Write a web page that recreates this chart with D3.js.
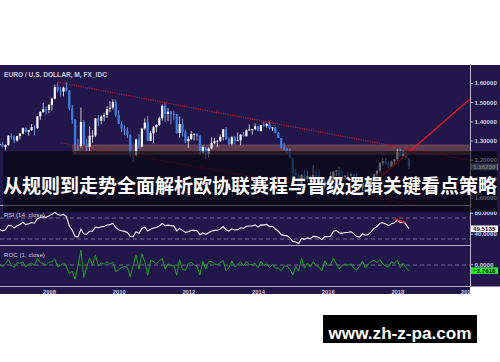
<!DOCTYPE html>
<html><head><meta charset="utf-8">
<script src="https://cdn.jsdelivr.net/npm/d3@7"></script>
<style>
html,body{margin:0;padding:0;background:#fff;}
svg{display:block;}
</style></head><body>
<svg id="chart" width="500" height="362"></svg>
<script>
// EUR/USD monthly bars, first bar = Jan 2005 (earlier bars only feed the indicators)
const firstBar = [2005, 0];
const firstOpen = 1.3560;
const closes = [
  1.3040, 1.3250, 1.2960, 1.2870, 1.2300, 1.2100, 1.2120, 1.2330, 1.2030, 1.1990, 1.1790, 1.1840,
  1.2160, 1.1920, 1.2120, 1.2620, 1.2850, 1.2790, 1.2760, 1.2815, 1.2670, 1.2760, 1.3240, 1.3200,
  1.3000, 1.3230, 1.3360, 1.3650, 1.3450, 1.3540, 1.3690, 1.3640, 1.4260, 1.4490, 1.4630, 1.4590,
  1.4860, 1.5180, 1.5790, 1.5600, 1.5550, 1.5760, 1.5600, 1.4670, 1.4080, 1.2730, 1.2700, 1.3970,
  1.2800, 1.2670, 1.3250, 1.3250, 1.4150, 1.4030, 1.4250, 1.4330, 1.4640, 1.4720, 1.5000, 1.4320,
  1.3860, 1.3630, 1.3510, 1.3290, 1.2270, 1.2230, 1.3050, 1.2680, 1.3630, 1.3930, 1.2980, 1.3380,
  1.3690, 1.3810, 1.4160, 1.4810, 1.4390, 1.4500, 1.4390, 1.4370, 1.3390, 1.3860, 1.3440, 1.2960,
  1.3080, 1.3330, 1.3340, 1.3240, 1.2360, 1.2660, 1.2300, 1.2580, 1.2860, 1.2960, 1.2990, 1.3190,
  1.3580, 1.3060, 1.2820, 1.3170, 1.2990, 1.3010, 1.3300, 1.3220, 1.3530, 1.3580, 1.3590, 1.3740,
  1.3490, 1.3800, 1.3770, 1.3870, 1.3630, 1.3690, 1.3390, 1.3130, 1.2630, 1.2530, 1.2450, 1.2100,
  1.1290, 1.1190, 1.0730, 1.1220, 1.0990, 1.1140, 1.0980, 1.1210, 1.1170, 1.1000, 1.0570, 1.0860,
  1.0830, 1.0870, 1.1380, 1.1450, 1.1130, 1.1100, 1.1170, 1.1160, 1.1240, 1.0980, 1.0590, 1.0520,
  1.0800, 1.0580, 1.0650, 1.0900, 1.1240, 1.1420, 1.1840, 1.1910, 1.1810, 1.1650, 1.1900, 1.2020,
  1.2410, 1.2190, 1.2320, 1.207732, 1.16230
];
const highs = [
  1.3670, 1.3290, 1.3480, 1.3080, 1.2940, 1.2380, 1.2260, 1.2470, 1.2510, 1.2160, 1.2090, 1.2100,
  1.2310, 1.2230, 1.2180, 1.2640, 1.2980, 1.2950, 1.2860, 1.2910, 1.2920, 1.2800, 1.3290, 1.3370,
  1.3270, 1.3250, 1.3380, 1.3680, 1.3680, 1.3550, 1.3850, 1.3770, 1.4280, 1.4530, 1.4970, 1.4770,
  1.4900, 1.5240, 1.5910, 1.6020, 1.5800, 1.5820, 1.6040, 1.5630, 1.4870, 1.4120, 1.3080, 1.4720,
  1.4060, 1.3090, 1.3740, 1.3540, 1.4170, 1.4340, 1.4310, 1.4450, 1.4790, 1.5060, 1.5140, 1.5140,
  1.4580, 1.3990, 1.3780, 1.3690, 1.3330, 1.2480, 1.3110, 1.3330, 1.3640, 1.4160, 1.4280, 1.3500,
  1.3760, 1.3860, 1.4250, 1.4880, 1.4940, 1.4700, 1.4540, 1.4550, 1.4390, 1.4250, 1.4150, 1.3550,
  1.3230, 1.3490, 1.3390, 1.3380, 1.3280, 1.2750, 1.2660, 1.2640, 1.3170, 1.3140, 1.3020, 1.3310,
  1.3600, 1.3710, 1.3170, 1.3240, 1.3240, 1.3420, 1.3340, 1.3450, 1.3580, 1.3830, 1.3620, 1.3890,
  1.3740, 1.3820, 1.3970, 1.3910, 1.3990, 1.3700, 1.3700, 1.3440, 1.3140, 1.2890, 1.2600, 1.2570,
  1.2100, 1.1530, 1.1240, 1.1230, 1.1470, 1.1440, 1.1220, 1.1710, 1.1460, 1.1500, 1.1060, 1.1000,
  1.0990, 1.1380, 1.1390, 1.1460, 1.1620, 1.1430, 1.1190, 1.1370, 1.1330, 1.1260, 1.1300, 1.0750,
  1.0830, 1.0830, 1.0910, 1.0950, 1.1270, 1.1450, 1.1850, 1.2070, 1.2090, 1.1880, 1.1960, 1.2030,
  1.2540, 1.2560, 1.2480, 1.2410, 1.2100
];
const lows = [
  1.2970, 1.2750, 1.2860, 1.2750, 1.2290, 1.1990, 1.1870, 1.2080, 1.1980, 1.1870, 1.1640, 1.1710,
  1.1800, 1.1860, 1.1860, 1.2070, 1.2610, 1.2460, 1.2460, 1.2710, 1.2650, 1.2480, 1.2720, 1.3070,
  1.2860, 1.2930, 1.3060, 1.3320, 1.3410, 1.3260, 1.3500, 1.3260, 1.3590, 1.4070, 1.4440, 1.4350,
  1.4420, 1.4560, 1.5140, 1.5510, 1.5290, 1.5300, 1.5560, 1.4580, 1.3880, 1.2330, 1.2420, 1.2600,
  1.2760, 1.2460, 1.2460, 1.2890, 1.3170, 1.3750, 1.3850, 1.4000, 1.4170, 1.4480, 1.4620, 1.4220,
  1.3860, 1.3440, 1.3270, 1.3120, 1.2140, 1.1880, 1.2150, 1.2590, 1.2640, 1.3540, 1.2970, 1.2970,
  1.2870, 1.3430, 1.3750, 1.4040, 1.3970, 1.4020, 1.3840, 1.4060, 1.3360, 1.3140, 1.3210, 1.2860,
  1.2620, 1.3030, 1.3000, 1.3000, 1.2290, 1.2290, 1.2040, 1.2130, 1.2560, 1.2800, 1.2660, 1.2920,
  1.3000, 1.3030, 1.2740, 1.2750, 1.2790, 1.2990, 1.2750, 1.3200, 1.3210, 1.3500, 1.3300, 1.3540,
  1.3480, 1.3470, 1.3720, 1.3670, 1.3590, 1.3500, 1.3370, 1.3130, 1.2570, 1.2500, 1.2360, 1.2100,
  1.1100, 1.1100, 1.0460, 1.0520, 1.0820, 1.0820, 1.0810, 1.0850, 1.1090, 1.0900, 1.0560, 1.0520,
  1.0710, 1.0800, 1.0810, 1.1140, 1.1100, 1.0910, 1.0950, 1.1050, 1.1120, 1.0850, 1.0510, 1.0340,
  1.0340, 1.0490, 1.0490, 1.0570, 1.0840, 1.1120, 1.1310, 1.1660, 1.1720, 1.1570, 1.1550, 1.1720,
  1.1920, 1.2160, 1.2150, 1.2060, 1.1510
];

const yearTicks = [2008, 2010, 2012, 2014, 2016, 2018, 2020];
const priceTicks = [1.0, 1.1, 1.2, 1.3, 1.4, 1.5, 1.6];
const rsiTicks = [80, 40];
const rsiBands = [70, 30];
const rocTicks = [0];

// Drawing tools: [year, month (0-based), value]
const upperTrend = [[2008, 3, 1.6040], [2020, 1, 1.1960]];
const lowerTrend = [[2008, 4, 1.2870], [2020, 1, 0.9150]];
const breakoutLine = [[2017, 5, 1.0940], [2020, 1, 1.5165]];
const zoneStart = [2008, 8];
const zoneEnd = [2020, 1];
const zonePrices = [1.2244, 1.2766];
const rsiDivergence = [[2017, 11, 68.5], [2018, 3, 61.0]];

const title = "EURO / U.S. DOLLAR, M, FX_IDC";
const headline = "从规则到走势全面解析欧协联赛程与晋级逻辑关键看点策略";
const siteName = "www.zh-z-pa.com";

// ---------------------------------------------------------------
const navy = "#21174a";
const bullCol = "#f4f4f8", bearCol = "#3c80e6";
const axisText = "#cfcde0";
const W = 500;
const plotRight = 470;
const mainTop = 65, mainBottom = 205.5, rsiBottom = 245.5, rocBottom = 286.5, axisBottom = 294;

const mIdx = (y, m) => (y - 2008) * 12 + m;
const offset = mIdx(firstBar[0], firstBar[1]);

const bars = closes.map((c, i) => ({
  t: i + offset,
  o: i ? closes[i - 1] : firstOpen,
  h: highs[i], l: lows[i], c
}));

function wilderRsi(vals, len) {
  const out = vals.map(() => null);
  let ag = 0, al = 0;
  for (let i = 1; i < vals.length; i++) {
    const ch = vals[i] - vals[i - 1];
    const g = Math.max(ch, 0), l = Math.max(-ch, 0);
    if (i <= len) { ag += g / len; al += l / len; }
    else { ag = (ag * (len - 1) + g) / len; al = (al * (len - 1) + l) / len; }
    if (i >= len) out[i] = al === 0 ? 100 : 100 - 100 / (1 + ag / al);
  }
  return out;
}
const rsi = wilderRsi(closes, 14);
const roc = closes.map((c, i) => i ? (c / closes[i - 1] - 1) * 100 : null);

const x = d3.scaleLinear().domain([0, 144]).range([49, 467]);
const y = d3.scaleLinear().domain([1.0, 1.6]).range([198, 83]);
const yRsi = d3.scaleLinear().domain([30, 70]).range([239, 218]);
const yRoc = d3.scaleLinear().domain([0, 10]).range([265, 250]);

const svg = d3.select("#chart");
const defs = svg.append("defs");
function clip(id, x0, y0, w, h) {
  defs.append("clipPath").attr("id", id).append("rect")
    .attr("x", x0).attr("y", y0).attr("width", w).attr("height", h);
  return `url(#${id})`;
}
const clipMain = clip("cMain", 0, mainTop, plotRight, mainBottom - mainTop);
const clipRsi = clip("cRsi", 0, mainBottom, plotRight, rsiBottom - mainBottom);
const clipRoc = clip("cRoc", 0, rsiBottom, plotRight, rocBottom - rsiBottom);
const clipX = clip("cX", 0, rocBottom, plotRight, axisBottom - rocBottom);

// background
svg.append("rect").attr("x", 0).attr("y", 0).attr("width", W).attr("height", 362).attr("fill", "#fff");
svg.append("rect").attr("x", 0).attr("y", mainTop).attr("width", plotRight).attr("height", axisBottom - mainTop).attr("fill", navy);
svg.append("rect").attr("x", plotRight).attr("y", mainTop).attr("width", W - plotRight).attr("height", rocBottom - mainTop).attr("fill", navy);

// ---- main price pane
const main = svg.append("g").attr("clip-path", clipMain);

main.append("rect")
  .attr("x", x(mIdx(...zoneStart)))
  .attr("width", x(mIdx(...zoneEnd)) - x(mIdx(...zoneStart)))
  .attr("y", y(zonePrices[1]))
  .attr("height", y(zonePrices[0]) - y(zonePrices[1]))
  .attr("fill", "#b0705a").attr("fill-opacity", 0.42);
main.append("line")
  .attr("x1", x(mIdx(...zoneStart))).attr("x2", x(mIdx(...zoneEnd)))
  .attr("y1", y(zonePrices[1])).attr("y2", y(zonePrices[1]))
  .attr("stroke", "#c08070").attr("stroke-opacity", 0.5).attr("stroke-width", 0.8);

const candle = main.append("g").selectAll("g").data(bars).join("g");
candle.append("line")
  .attr("x1", d => x(d.t)).attr("x2", d => x(d.t))
  .attr("y1", d => y(d.h)).attr("y2", d => y(d.l))
  .attr("stroke", d => d.c >= d.o ? "#d6d6e2" : "#7aa0e4")
  .attr("stroke-width", 0.9);
candle.append("rect")
  .attr("x", d => x(d.t) - 1.1).attr("width", 2.2)
  .attr("y", d => y(Math.max(d.o, d.c)))
  .attr("height", d => Math.max(1, Math.abs(y(d.o) - y(d.c))))
  .attr("fill", d => d.c >= d.o ? bullCol : bearCol);

const seg = pts => pts.map(p => [x(mIdx(p[0], p[1])), y(p[2])]);
main.append("path").attr("d", d3.line()(seg(upperTrend)))
  .attr("stroke", "#c4122c").attr("stroke-width", 1.3).attr("stroke-dasharray", "1.2,1.1").attr("fill", "none");
main.append("path").attr("d", d3.line()(seg(lowerTrend)))
  .attr("stroke", "#c4122c").attr("stroke-width", 1.1).attr("stroke-dasharray", "1.2,1.8").attr("fill", "none");
main.append("path").attr("d", d3.line()(seg(breakoutLine)))
  .attr("stroke", "#e8161c").attr("stroke-width", 1.3).attr("fill", "none");

svg.append("text").attr("x", 4).attr("y", 76.5).text(title)
  .attr("font-family", "Liberation Sans, Arial, sans-serif").attr("font-weight", "bold")
  .attr("font-size", 6.6).attr("fill", axisText);

// ---- RSI pane
const rsiG = svg.append("g").attr("clip-path", clipRsi);
rsiG.selectAll("line.band").data(rsiBands).join("line")
  .attr("x1", 0).attr("x2", plotRight).attr("y1", d => yRsi(d)).attr("y2", d => yRsi(d))
  .attr("stroke", "#7a7698").attr("stroke-width", 0.9).attr("stroke-dasharray", "4,3");
const rsiPts = bars.map((b, i) => [b.t, rsi[i]]).filter(p => p[1] != null);
rsiG.append("path")
  .attr("d", d3.line().x(p => x(p[0])).y(p => yRsi(p[1]))(rsiPts))
  .attr("stroke", "#f2f2f6").attr("stroke-width", 1.1).attr("fill", "none");
rsiG.append("path")
  .attr("d", d3.line().x(p => x(mIdx(p[0], p[1]))).y(p => yRsi(p[2]))(rsiDivergence))
  .attr("stroke", "#e8161c").attr("stroke-width", 1.3).attr("fill", "none");
svg.append("text").attr("x", 4).attr("y", 217).text("RSI (14, close)")
  .attr("font-family", "Liberation Sans, Arial, sans-serif")
  .attr("font-size", 6.2).attr("fill", axisText);

// ---- ROC pane
const rocG = svg.append("g").attr("clip-path", clipRoc);
rocG.selectAll("line.zero").data(rocTicks).join("line")
  .attr("x1", 0).attr("x2", plotRight).attr("y1", d => yRoc(d)).attr("y2", d => yRoc(d))
  .attr("stroke", "#7a7698").attr("stroke-width", 0.9).attr("stroke-dasharray", "4,3");
const rocPts = bars.map((b, i) => [b.t, roc[i]]).filter(p => p[1] != null);
rocG.append("path")
  .attr("d", d3.line().x(p => x(p[0])).y(p => yRoc(p[1]))(rocPts))
  .attr("stroke", "#1ea51e").attr("stroke-width", 1).attr("fill", "none");
svg.append("text").attr("x", 4).attr("y", 256.5).text("ROC (1, close)")
  .attr("font-family", "Liberation Sans, Arial, sans-serif")
  .attr("font-size", 6.2).attr("fill", axisText);

// ---- pane separators and right scale line
[mainBottom, rsiBottom, rocBottom].forEach(v => {
  svg.append("line").attr("x1", 0).attr("x2", plotRight).attr("y1", v).attr("y2", v)
    .attr("stroke", "#aeacc4").attr("stroke-width", 1);
});
svg.append("line").attr("x1", plotRight + 0.5).attr("x2", plotRight + 0.5)
  .attr("y1", mainTop).attr("y2", rocBottom)
  .attr("stroke", "#b8b6cc").attr("stroke-width", 1);

function styleAxis(g, size) {
  g.select(".domain").remove();
  g.selectAll(".tick line").attr("stroke", "#b8b6cc");
  g.selectAll(".tick text").attr("fill", axisText).attr("font-size", size)
    .attr("font-weight", "bold").attr("font-family", "Liberation Sans, Arial, sans-serif");
}
svg.append("g").attr("transform", `translate(${plotRight + 0.5},0)`)
  .call(d3.axisRight(y).tickValues(priceTicks).tickSize(2.5).tickPadding(1.5).tickFormat(d3.format(".5f")))
  .call(g => styleAxis(g, 6.2));
svg.append("g").attr("transform", `translate(${plotRight + 0.5},0)`)
  .call(d3.axisRight(yRsi).tickValues(rsiTicks).tickSize(2.5).tickPadding(1.5).tickFormat(d3.format(".4f")))
  .call(g => styleAxis(g, 6.2));
svg.append("g").attr("transform", `translate(${plotRight + 0.5},-0.8)`)
  .call(d3.axisRight(yRoc).tickValues(rocTicks).tickSize(2.5).tickPadding(1.5).tickFormat(d3.format(".4f")))
  .call(g => styleAxis(g, 6.2));

svg.append("g").attr("clip-path", clipX)
  .append("g").attr("transform", `translate(0,${rocBottom})`)
  .call(d3.axisBottom(x).tickValues(yearTicks.map(v => mIdx(v, 0))).tickSize(0).tickPadding(3.2)
    .tickFormat(d => String(2008 + d / 12)))
  .call(g => styleAxis(g, 5.8));

// last-value tags
function tag(yPos, text, fill, color) {
  const g = svg.append("g");
  g.append("rect").attr("x", plotRight + 1).attr("y", yPos - 3.3).attr("width", 27).attr("height", 6.6).attr("fill", fill);
  g.append("text").attr("x", plotRight + 3).attr("y", yPos).attr("dy", "0.34em").text(text)
    .attr("font-family", "Liberation Sans, Arial, sans-serif").attr("font-weight", "bold")
    .attr("font-size", 6.2).attr("fill", color);
}
const last = bars.length - 1;
tag(y(closes[last]), d3.format(".5f")(closes[last]), "#6f80b0", "#ffffff");
tag(yRsi(rsi[last]), d3.format(".4f")(rsi[last]), "#f4f4f4", "#21174a");
tag(yRoc(roc[last]), d3.format(".4f")(roc[last]), "#24f024", "#101010");

// headline strip across the chart
svg.append("rect").attr("x", 3).attr("y", 151).attr("width", 494).attr("height", 61)
  .attr("fill", "#000").attr("fill-opacity", 0.56);
svg.append("text").attr("x", 250).attr("y", 184).attr("text-anchor", "middle")
  .attr("dominant-baseline", "central").text(headline)
  .attr("font-family", "Noto Sans CJK SC, sans-serif").attr("font-weight", "bold")
  .attr("font-size", 19).attr("fill", "#ffffff");

// site badge
svg.append("rect").attr("x", 323).attr("y", 315).attr("width", 154).attr("height", 28).attr("fill", "#000");
svg.append("text").attr("x", 400).attr("y", 339).attr("text-anchor", "middle").text(siteName)
  .attr("font-family", "Liberation Sans, Arial, sans-serif").attr("font-weight", "bold")
  .attr("font-size", 16).attr("textLength", 143).attr("lengthAdjust", "spacingAndGlyphs")
  .attr("fill", "#ffffff");
</script>
</body></html>
